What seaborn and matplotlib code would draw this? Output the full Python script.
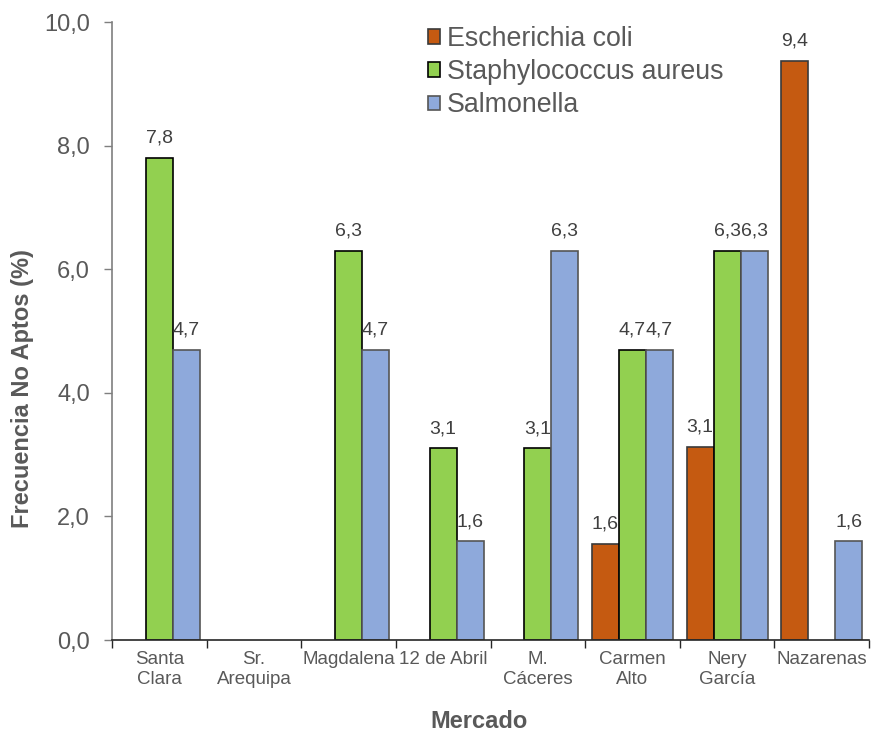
import matplotlib
matplotlib.use("Agg")
import matplotlib.pyplot as plt
from matplotlib.patches import Patch
from matplotlib.ticker import FixedLocator
import numpy as np
import pandas as pd
import seaborn as sns

# ---- data ----
mercados = ["Santa\nClara", "Sr.\nArequipa", "Magdalena", "12 de Abril",
            "M.\nCáceres", "Carmen\nAlto", "Nery\nGarcía", "Nazarenas"]
series = ["Escherichia coli", "Staphylococcus aureus", "Salmonella"]
e_coli = [0, 0, 0, 0, 0, 1.56, 3.13, 9.37]
s_aureus = [7.8, 0, 6.3, 3.1, 3.1, 4.7, 6.3, 0]
salmonella = [4.7, 0, 4.7, 1.6, 6.3, 4.7, 6.3, 1.6]
yticks = [0, 2, 4, 6, 8, 10]

colors = ["#C55A11", "#92D050", "#8EA9DB"]
edges = ["#3a3a3a", "#000000", "#555555"]
text_gray = "#595959"

rows = []
for s, vals in zip(series, [e_coli, s_aureus, salmonella]):
    for m, v in zip(mercados, vals):
        if v > 0:
            rows.append({"Mercado": m, "Serie": s, "Valor": v})
df = pd.DataFrame(rows)

sns.set_theme(style="white")
plt.rcParams["font.family"] = ["Liberation Sans", "DejaVu Sans"]

fig = plt.figure(figsize=(8.72, 7.36), dpi=100)
ax = fig.add_axes([112 / 872, 1 - 640 / 736, 757 / 872, 618 / 736])

sns.barplot(data=df, x="Mercado", y="Valor", hue="Serie",
            order=mercados, hue_order=series, palette=colors,
            width=0.856, gap=0, errorbar=None, ax=ax,
            linewidth=1.2, saturation=1, legend=False)

for cont, ec in zip(ax.containers, edges):
    for p in cont:
        p.set_edgecolor(ec)
    ax.bar_label(cont, fmt=lambda v: f"{v:.1f}".replace(".", ","),
                 padding=8, fontsize=14, color="#404040")

ax.set_xlim(-0.5, len(mercados) - 0.5)
ax.set_ylim(0, 10)
ax.set_yticks(yticks)
ax.set_yticklabels([f"{t:.1f}".replace(".", ",") for t in yticks])
ax.tick_params(axis="y", labelsize=17, colors=text_gray, length=6, width=1,
               direction="out", pad=10, left=True)
ax.tick_params(axis="y", labelcolor=text_gray)
ax.set_xticks(range(len(mercados)))
ax.set_xticklabels(mercados)
ax.tick_params(axis="x", which="major", length=0, labelsize=13.5,
               labelcolor=text_gray, pad=8)
ax.xaxis.set_minor_locator(FixedLocator(np.arange(-0.5, len(mercados), 1)))
ax.tick_params(axis="x", which="minor", length=6, width=1, color="#262626",
               direction="out", bottom=True)
ax.tick_params(axis="y", color="#7f7f7f")

for side in ["top", "right"]:
    ax.spines[side].set_visible(False)
ax.spines["left"].set_color("#7f7f7f")
ax.spines["bottom"].set_color("#262626")
ax.spines["left"].set_linewidth(1.2)
ax.spines["bottom"].set_linewidth(1.2)

ax.set_xlabel("Mercado", fontsize=17, fontweight="bold", color=text_gray,
              va="center")
ax.xaxis.set_label_coords(479 / 872, 1 - 722 / 736, transform=fig.transFigure)
ax.set_ylabel("Frecuencia No Aptos (%)", fontsize=17, fontweight="bold",
              color=text_gray, va="center")
ax.yaxis.set_label_coords(23 / 872, 1 - 389 / 736, transform=fig.transFigure)

handles = [Patch(facecolor=c, edgecolor=e, linewidth=1.2) for c, e in zip(colors, edges)]
ax.legend(handles, series, loc="upper left",
          bbox_to_anchor=(428 / 872, 1 - 26 / 736),
          bbox_transform=fig.transFigure, frameon=False, fontsize=19.3,
          handlelength=0.45, handleheight=0.45, handletextpad=0.26,
          labelspacing=0.27, borderpad=0, borderaxespad=0,
          labelcolor=text_gray)

fig.savefig("out.png", dpi=100)
